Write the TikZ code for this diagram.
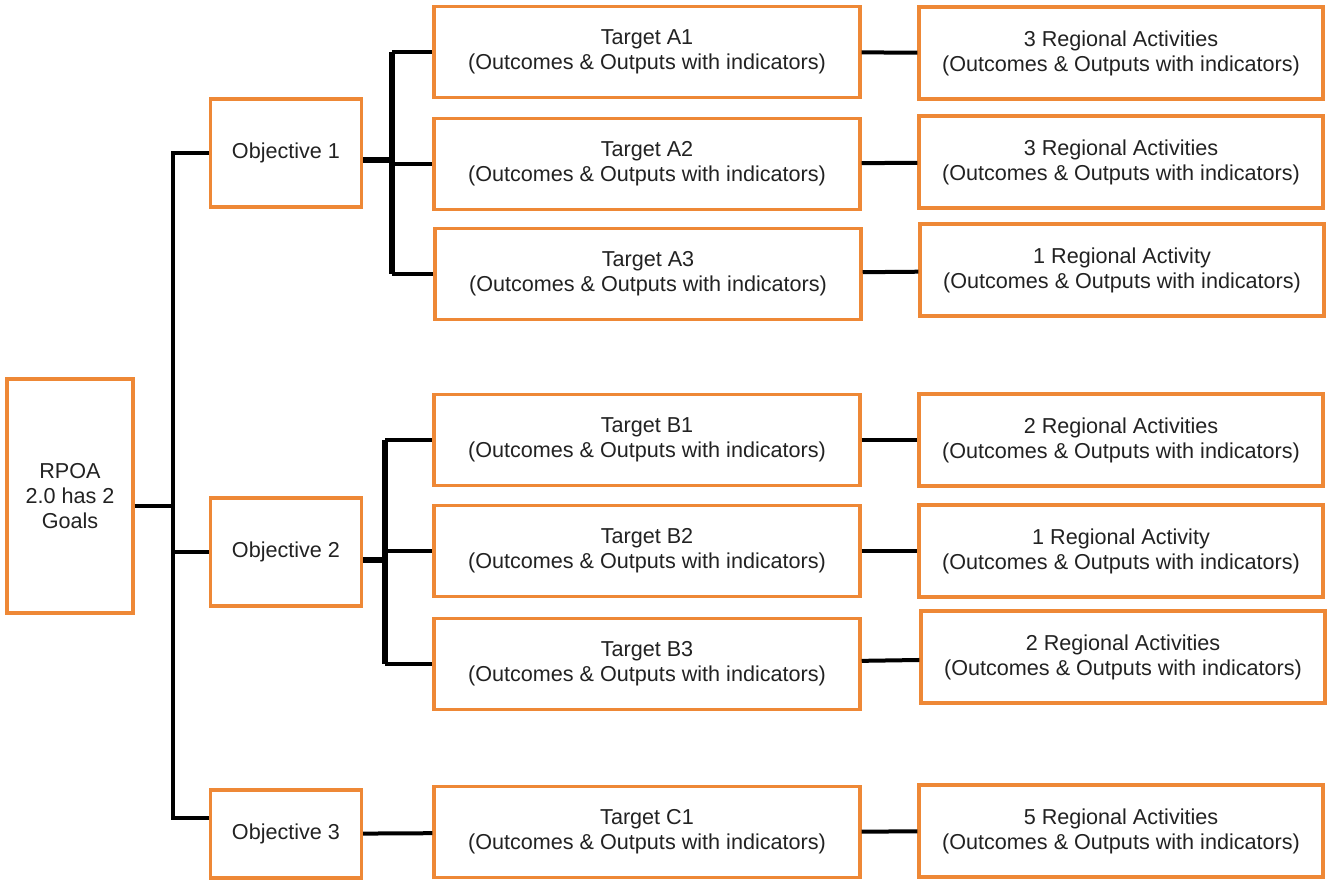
\documentclass[tikz,border=0pt]{standalone}
\usepackage{fontspec}
\setmainfont{Liberation Sans}
\usepackage{xcolor}
\usetikzlibrary{positioning,calc}
\definecolor{boxorange}{RGB}{238,136,54}
\definecolor{boxtext}{RGB}{34,34,34}

\begin{document}
\begin{tikzpicture}[
  x=0.75pt, y=-0.75pt,
  font=\fontsize{16.2}{18.8}\selectfont,
  box/.style={draw=boxorange, line width=2.6pt, fill=white, align=center, inner sep=2pt, text=boxtext},
  goalbox/.style={box, minimum width=94.5pt, minimum height=175.5pt},
  objbox/.style={box, minimum width=113.25pt, minimum height=81pt},
  tgtbox/.style={box, minimum width=319.5pt, minimum height=68.25pt},
  actbox/.style={box, minimum width=303pt, minimum height=69pt},
  link/.style={line width=3pt, black},
  spine/.style={line width=5pt, black}
]
  \useasboundingbox (0,0) rectangle (1328,885);
  \node[goalbox] (rpoa) at (70,496) {RPOA\\2.0 has 2\\Goals};
  \node[objbox] (obj1) at (286,153) {Objective 1};
  \node[objbox] (obj2) at (286,552) {Objective 2};
  \node[objbox, minimum height=66pt] (obj3) at (286,834) {Objective 3};
  \node[tgtbox] (ta1) at (647,52) {Target A1\\(Outcomes \& Outputs with indicators)};
  \node[tgtbox] (ta2) at (647,164) {Target A2\\(Outcomes \& Outputs with indicators)};
  \node[tgtbox] (ta3) at (648,274) {Target A3\\(Outcomes \& Outputs with indicators)};
  \node[tgtbox] (tb1) at (647,440) {Target B1\\(Outcomes \& Outputs with indicators)};
  \node[tgtbox] (tb2) at (647,551) {Target B2\\(Outcomes \& Outputs with indicators)};
  \node[tgtbox] (tb3) at (647,664) {Target B3\\(Outcomes \& Outputs with indicators)};
  \node[tgtbox] (tc1) at (647,832) {Target C1\\(Outcomes \& Outputs with indicators)};
  \node[actbox] (aa1) at (1121,53) {3 Regional Activities\\(Outcomes \& Outputs with indicators)};
  \node[actbox] (aa2) at (1121,162) {3 Regional Activities\\(Outcomes \& Outputs with indicators)};
  \node[actbox] (aa3) at (1122,270) {1 Regional Activity\\(Outcomes \& Outputs with indicators)};
  \node[actbox] (ab1) at (1121,440) {2 Regional Activities\\(Outcomes \& Outputs with indicators)};
  \node[actbox] (ab2) at (1121,551) {1 Regional Activity\\(Outcomes \& Outputs with indicators)};
  \node[actbox] (ab3) at (1123,657) {2 Regional Activities\\(Outcomes \& Outputs with indicators)};
  \node[actbox] (ac1) at (1121,831) {5 Regional Activities\\(Outcomes \& Outputs with indicators)};
  \coordinate (s0) at (173,506);
  \coordinate (s1) at (392,160);
  \coordinate (s2) at (385,560);
  \draw[link] (rpoa.east |- s0) -- (s0);
  \draw[link] (obj1.west) -| (s0) |- ([yshift=12pt]obj3.west);
  \draw[link] (s0 |- obj2.west) -- (obj2.west);
  \draw[spine] (obj1.east |- s1) -- (s1);
  \draw[spine] (s1 |- ta1.west) -- (s1 |- ta3.west);
  \draw[link] (s1 |- ta1.west) -- (ta1.west);
  \draw[link] (s1 |- ta2.west) -- (ta2.west);
  \draw[link] (s1 |- ta3.west) -- (ta3.west);
  \draw[spine] (obj2.east |- s2) -- (s2);
  \draw[spine] (s2 |- tb1.west) -- (s2 |- tb3.west);
  \draw[link] (s2 |- tb1.west) -- (tb1.west);
  \draw[link] (s2 |- tb2.west) -- (tb2.west);
  \draw[link] (s2 |- tb3.west) -- (tb3.west);
  \draw[link] (obj3) -- (tc1);
  \draw[link] (ta1) -- (aa1);
  \draw[link] (ta2) -- (aa2);
  \draw[link] (ta3) -- (aa3);
  \draw[link] (tb1) -- (ab1);
  \draw[link] (tb2) -- (ab2);
  \draw[link] (tb3) -- (ab3);
  \draw[link] (tc1) -- (ac1);
\end{tikzpicture}
\end{document}
